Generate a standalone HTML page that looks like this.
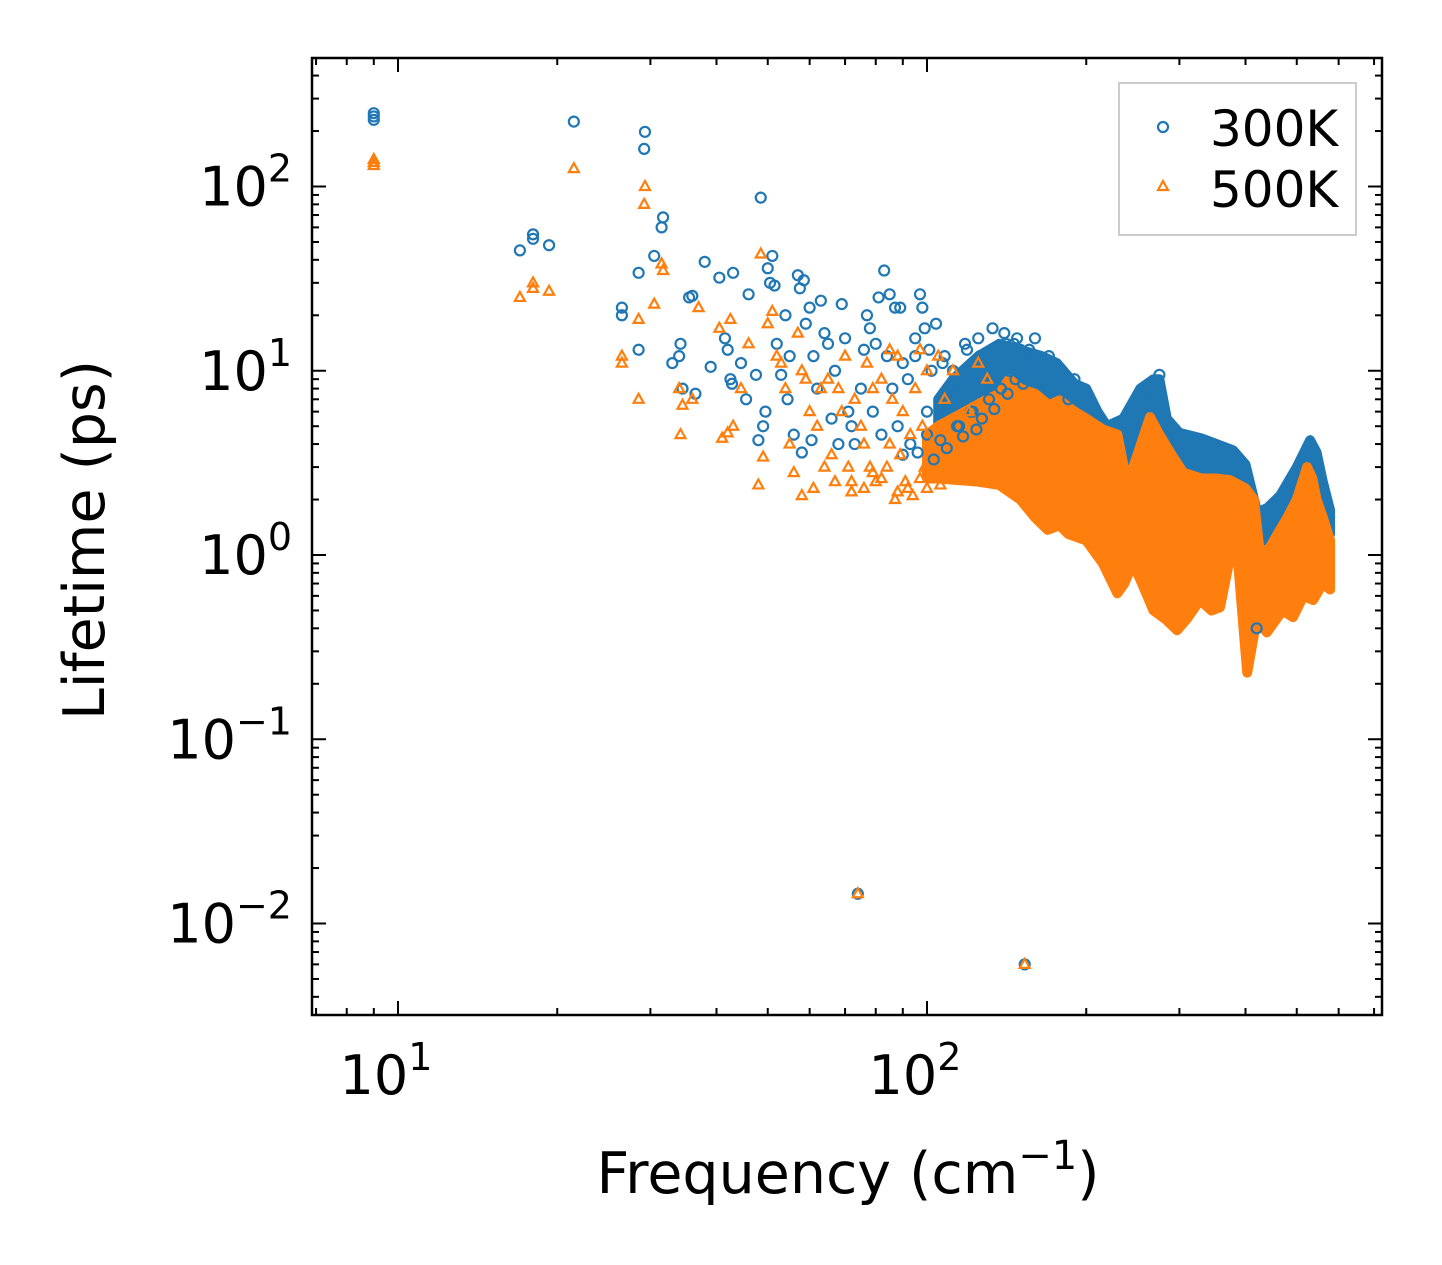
<!DOCTYPE html>
<html><head><meta charset="utf-8"><style>
html,body{margin:0;padding:0;background:#fff}
svg{display:block;font-family:"DejaVu Sans","Liberation Sans",sans-serif}
</style></head><body>
<svg id="chart" width="1442" height="1265" viewBox="0 0 1442 1265" xmlns="http://www.w3.org/2000/svg">
<g id="bands"></g>
<g id="points"></g>
<g id="axes"></g>
<text x="848" y="1193" font-size="57" text-anchor="middle">Frequency (cm<tspan font-size="40" dy="-24">−1</tspan><tspan dy="24">)</tspan></text>
<text transform="translate(104,540) rotate(-90)" font-size="57" text-anchor="middle">Lifetime (ps)</text>
<g>
<rect x="1119" y="83" width="237" height="152" fill="#fff" stroke="#ccc" stroke-width="2"/>
<circle cx="1163" cy="127" r="5" fill="none" stroke="#1f77b4" stroke-width="2.2"/>
<text x="1210" y="146" font-size="50">300K</text>
<path d="M1163,181 L1168,190 L1158,190 Z" fill="none" stroke="#ff7f0e" stroke-width="2.2"/>
<text x="1210" y="207" font-size="50">500K</text>
</g>
</svg>
<script>
const xTicks=[1,2];
const yTicks=[2,1,0,-1,-2];
const blueBandF=[105,112,125,137,150,165,176,190,200,210,219,235,253,268,275,284,300,330,379,400,421,440,465,500,530,545,560,578,578,560,500,430,415,410,400,374,340,300,280,264,245,229,215,200,178,160,137,112,105];
const blueBandY=[7,9,12,14,13,12,11,8.5,8,6,5,5.5,8,9,9,5.5,4.6,4.3,3.7,3.1,1.7,1.8,2.1,3,4.2,3.6,2.5,1.75,1.3,1.3,1.2,1.0,0.45,0.4,0.8,1.5,1.5,1.8,1.8,2,1.9,1.8,2.2,2.5,3,3.2,3.5,3.5,3.5];
const orangeBandF=[100,105,118,130,137,143,150,160,170,178,190,200,215,229,239,250,264,275,290,305,330,350,374,400,415,426,445,460,480,500,523,535,545,560,578,578,560,537,515,492,470,439,420,403,386,372,358,345,328,310,297,282,268,255,245,236,229,215,200,185,178,169,160,150,143,137,125,105,100];
const orangeBandY=[4.5,5,6,7,7.5,9,8,7.5,6.5,6.9,6,5.5,4.8,4.5,2.4,3.5,5.6,4.5,3.5,2.8,2.6,2.6,2.55,2.3,2.0,1.0,1.1,1.3,1.6,2.0,3.0,2.6,2.0,1.6,1.2,0.65,0.7,0.57,0.6,0.46,0.5,0.38,0.45,0.23,1.03,0.9,0.52,0.5,0.57,0.45,0.39,0.45,0.5,0.7,0.9,0.7,0.62,0.9,1.2,1.3,1.45,1.37,1.6,2.0,2.2,2.4,2.5,2.6,2.6];
const blueF=[9,9,9,17,18,18,19.3,21.5,26.5,26.5,28.5,28.5,29.3,29.2,30.5,31.5,31.7,33,34.2,34,34.5,35.5,36,36.5,38,39,40.5,41.5,42,42.5,42.8,43,44.5,45.5,46,47.5,48,48.5,49,49.5,50,50.5,51,51.5,52,53,54,54.5,55,56,57,57.5,58,58.5,59,60,60.5,61,62,63,64,65,66,67,68,69,70,71,72,73,74,75,76,77,78,79,80,81,82,83,84,85,86,87,88,89,90,92,95,97,98,99,100,102,104,106,108,110,112,115,118,120,122,125,128,130,133,136,140,143,146,150,153,155,158,160,165,170,175,180,185,190,200,265,270,275,420,90,93,96,100,103,106,109,114,117,121,124,127,131,134,138,142,147,152,157,163,95,101,107,113,119,126,133,141,148,156];
const blueY=[250,240,230,45,55,52,48,225,22,20,34,13,198,160,42,60,68,11,14,12,8,25,25.5,7.5,39,10.5,32,15,13,9,8.5,34,11,7,26,9.5,4.2,87,5,6,36,30,42,29,14,9.5,20,7,12,4.5,33,28,3.6,31,18,22,4.2,12,8,24,16,14,5.5,10,4,23,15,6,5,4,0.0145,8,13,20,17,6,14,25,4.5,35,12,26,8,22,5,22,11,9,15,26,22,17,6,10,18,7,12,8,10,5,14,9,6,15,8,10,17,12,16,10,14,13,0.006,12,11,15,9,12,8,9,7,9,7,8,7,9.5,0.4,3.5,4,3.6,4.5,3.3,4.2,3.8,5,4.4,6,4.8,5.5,7,6.2,8,7.5,9,8.5,10,11,12,13,11,9,13,12,10,14,15,13];
const orangeF=[9,9,9,17,18,18,19.3,21.5,26.5,26.5,28.5,28.5,29.3,29.2,30.5,31.5,31.7,34.2,34.5,34,36,37,40.5,41,42,42.5,43,44.5,46,48,48.5,49,50,51,52,53,54,55,56,57,58,58,59,60,61,62,63,64,65,66,67,68,69,70,71,72,73,74,75,76,77,78,79,80,82,84,85,86,87,88,90,92,95,97,99,100,102,105,108,112,115,120,125,130,153,88,91,94,97,100,103,106,110,114,118,122,126,82,85,89,93,98,76,79,72];
const orangeY=[140,135,130,25,30,28,27,125,12,11,19,7,100,80,23,38,35,4.5,6.5,8,7,22,17,4.3,4.6,19,5,8,14,2.4,43,3.4,18,21,12,11,8,4,2.8,16,10,2.1,9,6,2.3,5,8,3,9,3.5,2.5,8,6,12,3,2.2,7,0.0145,5,4,11,3,8,2.5,9,3,13,7,2,12,6,2.3,8,13,3,10,4,12,7,10,3,6,11,9,0.006,2.2,2.5,2.1,2.6,2.3,2.8,2.4,3,2.7,3.3,3.1,3.6,2.6,4,3.5,4.5,5,2.3,2.8,2.5];

const NS='http://www.w3.org/2000/svg';
const L=312,R=1382,T=58,B=1015;
const X0=398,XD=529,Y0=555,YD=184.25;
function xs(f){return X0+(Math.log10(f)-1)*XD;}
function ys(v){return Y0-Math.log10(v)*YD;}
const bands=document.getElementById('bands');
const pts=document.getElementById('points');
const axes=document.getElementById('axes');
function band(F,Y,color,name){
  let d='';
  for(let i=0;i<F.length;i++){d+=(i?'L':'M')+xs(F[i]).toFixed(1)+','+ys(Y[i]).toFixed(1);}
  const p=document.createElementNS(NS,'path');
  
  
  p.setAttribute('d',d+'Z');
  p.setAttribute('fill',color);p.setAttribute('stroke',color);
  p.setAttribute('stroke-width','10');p.setAttribute('stroke-linejoin','round');
  bands.appendChild(p);
}
function circles(F,Y){
  for(let i=0;i<F.length;i++){
    const c=document.createElementNS(NS,'circle');
    
    
    c.setAttribute('cx',xs(F[i]));c.setAttribute('cy',ys(Y[i]));
    c.setAttribute('r','5');c.setAttribute('fill','none');c.setAttribute('stroke','#1f77b4');c.setAttribute('stroke-width','2.2');
    pts.appendChild(c);
  }
}
function tris(F,Y){
  for(let i=0;i<F.length;i++){
    const x=xs(F[i]),y=ys(Y[i]);
    const p=document.createElementNS(NS,'path');
    
    
    p.setAttribute('d',`M${x},${y-5.5}L${x+5},${y+3.5}L${x-5},${y+3.5}Z`);
    p.setAttribute('fill','none');p.setAttribute('stroke','#ff7f0e');p.setAttribute('stroke-width','2.2');
    pts.appendChild(p);
  }
}
band(blueBandF,blueBandY,'#1f77b4','band-300k');
circles(blueF,blueY);
band(orangeBandF,orangeBandY,'#ff7f0e','band-500k');
tris(orangeF,orangeY);
function line(x1,y1,x2,y2,w,name){
  const l=document.createElementNS(NS,'line');
  
  
  l.setAttribute('x1',x1);l.setAttribute('y1',y1);l.setAttribute('x2',x2);l.setAttribute('y2',y2);
  l.setAttribute('stroke','#000');l.setAttribute('stroke-width',w);
  axes.appendChild(l);
}
function text(x,y,base,exp,anchor,name){
  const t=document.createElementNS(NS,'text');
  
  
  t.setAttribute('x',x);t.setAttribute('y',y);t.setAttribute('font-size','54');t.setAttribute('text-anchor',anchor);
  t.innerHTML=base+`<tspan font-size="38" dy="-24">${exp}</tspan>`;
  axes.appendChild(t);
}
for(let d=0;d<=2;d++){for(let m=1;m<=9;m++){
  const f=m*Math.pow(10,d);const x=xs(f);
  if(x<L||x>R)continue;
  const len=(m===1)?14:7;
  line(x,B,x,B-len,2,'x-tick');line(x,T,x,T+len,2,'x-tick-top');
}}
for(let d=-3;d<=2;d++){for(let m=1;m<=9;m++){
  const v=m*Math.pow(10,d);const y=ys(v);
  if(y<T||y>B)continue;
  const len=(m===1)?14:7;
  line(L,y,L+len,y,2,'y-tick');line(R,y,R-len,y,2,'y-tick-right');
}}
xTicks.forEach(e=>text(xs(Math.pow(10,e))-12,1094,'10',String(e),'middle','x-tick-label'));
yTicks.forEach(e=>text(292,ys(Math.pow(10,e))+19,'10',e<0?'−'+(-e):String(e),'end','y-tick-label'));
const fr=document.createElementNS(NS,'rect');


fr.setAttribute('x',L);fr.setAttribute('y',T);fr.setAttribute('width',R-L);fr.setAttribute('height',B-T);
fr.setAttribute('fill','none');fr.setAttribute('stroke','#000');fr.setAttribute('stroke-width','2.5');
axes.appendChild(fr);
</script>
</body></html>
